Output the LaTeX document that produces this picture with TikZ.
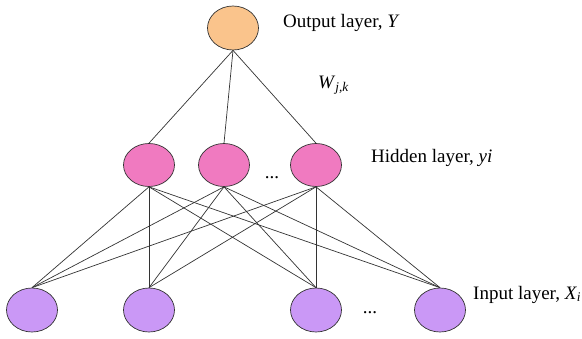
\documentclass[tikz,border=0pt]{standalone}
\usepackage{fontspec}
\setmainfont{Liberation Serif}
\usetikzlibrary{shapes.geometric}
\definecolor{outcol}{RGB}{250,196,140}
\definecolor{hidcol}{RGB}{240,122,192}
\definecolor{incol}{RGB}{202,152,246}
\tikzset{
	neuron/.style={ellipse, draw=black!80, line width=0.7pt, inner sep=0pt, minimum width=51pt, minimum height=44pt},
	wire/.style={draw=black!80, line width=0.7pt},
	lbl/.style={anchor=base west, inner sep=0pt, font=\fontsize{19}{22}\selectfont}
}
\begin{document}
\begin{tikzpicture}[x=1pt, y=-1pt]
	\useasboundingbox (0,0) rectangle (582,338);
	% Neurons
	\node[neuron, fill=outcol] (out) at (233,28) {};
	\foreach \n/\x in {1/149, 2/224, 3/316}
		\node[neuron, fill=hidcol, minimum height=43pt] (h\n) at (\x,165) {};
	\foreach \n/\x in {1/32, 2/149, 3/316, 4/440}
		\node[neuron, fill=incol] (in\n) at (\x,310) {};
	% Weights
	\foreach \h in {1,2,3}
		\draw[wire] (out.south) -- (h\h.north);
	\foreach \h in {1,2,3}
		\foreach \i in {1,2,3,4}
			\draw[wire] (h\h.south) -- (in\i.north);
	% Labels
	\node[lbl] (outlbl) at (283,27) {Output layer, \textit{Y}};
	\node[lbl] (wlbl) at (318,88) {\textit{W}\textsubscript{\textit{j,k}}};
	\node[lbl] (hidlbl) at (371,162) {Hidden layer, \textit{yi}};
	\node[lbl] (inlbl) at (473,299) {Input layer, \textit{X}\textsubscript{\textit{i}}};
	\node[lbl, anchor=base] (hdots) at (272,178) {...};
	\node[lbl, anchor=base] (idots) at (370,313) {...};
\end{tikzpicture}
\end{document}
